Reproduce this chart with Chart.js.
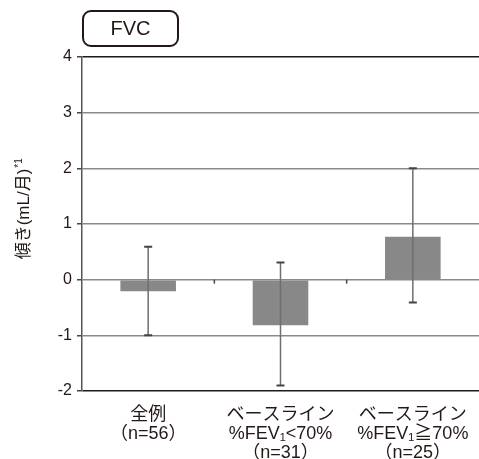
<!DOCTYPE html>
<html>
<head>
<meta charset="utf-8">
<script src="https://cdn.jsdelivr.net/npm/chart.js@4"></script>
<style>
    html, body { margin: 0; padding: 0; background: #fff; }
    #wrap { position: relative; width: 479px; height: 459px; }
</style>
</head>
<body>
<div id="wrap"><canvas id="chartbar"></canvas></div>
<script>
// data
const categories = [
    ['全例', '（n=56）'],
    ['ベースライン', '%FEV₁<70%', '（n=31）'],
    ['ベースライン', '%FEV₁≧70%', '（n=25）']
];
const slopes = [-0.21, -0.82, 0.77];
const errLow = [-1.0, -1.9, -0.41];
const errHigh = [0.59, 0.31, 2.0];
const yTicks = [-2, -1, 0, 1, 2, 3, 4];

const fontFamily = "'Liberation Sans', 'Noto Sans CJK JP', sans-serif";

// error bars, boundary ticks, panel box and axis title
const extrasPlugin = {
    id: 'extras',
    afterDatasetsDraw(chart) {
        const ctx = chart.ctx;
        const x = chart.scales.x;
        const y = chart.scales.y;
        ctx.save();
        slopes.forEach((v, i) => {
            const px = x.getPixelForValue(i);
            const top = y.getPixelForValue(errHigh[i]);
            const bot = y.getPixelForValue(errLow[i]);
            ctx.strokeStyle = '#6e6e6e';
            ctx.lineWidth = 1.5;
            ctx.beginPath();
            ctx.moveTo(px, top);
            ctx.lineTo(px, bot);
            ctx.stroke();
            ctx.strokeStyle = '#444';
            ctx.lineWidth = 2;
            ctx.beginPath();
            ctx.moveTo(px - 4, top);
            ctx.lineTo(px + 4, top);
            ctx.moveTo(px - 4, bot);
            ctx.lineTo(px + 4, bot);
            ctx.stroke();
        });
        // small marks between categories on the zero line
        const zero = y.getPixelForValue(0);
        ctx.strokeStyle = '#444';
        ctx.lineWidth = 1.5;
        for (let i = 0; i < slopes.length - 1; i++) {
            const bx = (x.getPixelForValue(i) + x.getPixelForValue(i + 1)) / 2;
            ctx.beginPath();
            ctx.moveTo(bx, zero);
            ctx.lineTo(bx, zero + 4);
            ctx.stroke();
        }
        ctx.restore();
    },
    afterDraw(chart) {
        const ctx = chart.ctx;
        ctx.save();
        // FVC box
        const bx = 83, by = 11, bw = 95, bh = 35, r = 8;
        ctx.strokeStyle = '#231815';
        ctx.lineWidth = 2;
        ctx.beginPath();
        ctx.roundRect(bx, by, bw, bh, r);
        ctx.stroke();
        ctx.fillStyle = '#231815';
        ctx.font = '20px ' + fontFamily;
        ctx.textAlign = 'center';
        ctx.textBaseline = 'middle';
        ctx.fillText('FVC', bx + bw / 2, by + bh / 2 + 1);
        // y axis title
        const title = '傾き(mL/月)';
        ctx.translate(24, 208);
        ctx.rotate(-Math.PI / 2);
        ctx.font = '17px ' + fontFamily;
        const w = ctx.measureText(title).width;
        ctx.textAlign = 'left';
        ctx.fillText(title, -w / 2 - 6, 0);
        ctx.font = '10px ' + fontFamily;
        ctx.fillText('*1', w / 2 - 5, -5);
        ctx.restore();
    }
};

const barChart = new Chart(document.getElementById('chartbar'), {
    type: 'bar',
    data: {
        labels: categories,
        datasets: [{
            data: slopes,
            backgroundColor: '#888888',
            borderWidth: 0,
            barPercentage: 0.42,
            categoryPercentage: 1
        }]
    },
    options: {
        responsive: true,
        maintainAspectRatio: false,
        animation: false,
        layout: { padding: { top: 57, right: 0, bottom: 0, left: 0 } },
        plugins: {
            legend: { display: false },
            tooltip: { enabled: false }
        },
        scales: {
            x: {
                grid: { display: false },
                border: { display: false },
                ticks: {
                    color: '#231815',
                    font: { family: fontFamily, size: 18, lineHeight: 1.05 },
                    maxRotation: 0,
                    autoSkip: false,
                    padding: 7
                },
                afterFit(scale) { scale.height = 68; }
            },
            y: {
                min: -2,
                max: 4,
                afterBuildTicks(scale) {
                    scale.ticks = yTicks.map(v => ({ value: v }));
                },
                grid: {
                    color: ctx => (ctx.tick && (ctx.tick.value === 4 || ctx.tick.value === -2)) ? '#231815' : '#8a8a8a',
                    lineWidth: 1.5,
                    tickLength: 5,
                    tickColor: '#444'
                },
                border: { color: '#555', width: 1.5 },
                ticks: {
                    color: '#231815',
                    font: { family: fontFamily, size: 16 },
                    padding: 5
                },
                afterFit(scale) { scale.width = 82; }
            }
        }
    },
    plugins: [extrasPlugin]
});
</script>
</body>
</html>
